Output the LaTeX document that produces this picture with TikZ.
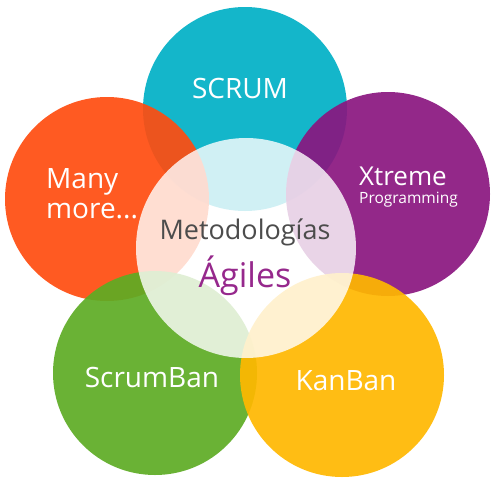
\documentclass[tikz,border=0pt]{standalone}
\usepackage{fontspec}
\setmainfont{Open Sans}
\usepackage{xcolor}
\usepackage{tikz}
\usetikzlibrary{positioning}

\definecolor{scrumcol}{RGB}{0,176,198}
\definecolor{morecol}{RGB}{255,76,16}
\definecolor{xpcol}{RGB}{138,22,128}
\definecolor{bancol}{RGB}{94,172,36}
\definecolor{kancol}{RGB}{255,184,0}
\definecolor{agilcol}{RGB}{150,40,140}

\begin{document}
\begin{tikzpicture}[
    x=1pt, y=-1pt,
    petal/.style={circle, minimum size=204pt, inner sep=0pt, fill opacity=0.92},
    hub/.style={circle, minimum size=220pt, inner sep=0pt, fill=white, fill opacity=0.8},
    methodtxt/.style={text=white, font=\fontsize{28}{30}\selectfont, inner sep=0pt, anchor=base}
]
    \fill[white] (0,0) rectangle (495,482);
    \useasboundingbox (0,0) rectangle (495,482);

    % the five methods
    \node[petal, fill=scrumcol] (scrum) at (245,109) {};
    \node[petal, fill=morecol] (more) at (107,199) {};
    \node[petal, fill=xpcol] (xp) at (388,194) {};
    \node[petal, fill=bancol] (scrumban) at (155,373) {};
    \node[petal, fill=kancol] (kanban) at (342,375) {};

    % the centre
    \node[hub] (hub) at (246,248) {};

    \node[methodtxt] (scrumtxt) at (240,98) {SCRUM};
    \node[methodtxt, anchor=base west] (manytxt) at (46,188) {Many};
    \node[methodtxt, anchor=base west] (moretxt) at (46,218) {more...};
    \node[methodtxt, anchor=base west, font=\fontsize{26}{26}\selectfont] (xptxt) at (359,185) {Xtreme};
    \node[methodtxt, anchor=base west, font=\fontsize{15.5}{16}\selectfont] (pgtxt) at (359,203) {Programming};
    \node[methodtxt] (bantxt) at (152,387) {ScrumBan};
    \node[methodtxt] (kantxt) at (346,390) {KanBan};

    \node[inner sep=0pt, anchor=base, text=black!70, font=\fontsize{27}{30}\selectfont] (metotxt) at (245,239) {Metodologías};
    \node[inner sep=0pt, anchor=base, text=agilcol, font=\fontsize{34}{36}\selectfont] (agiltxt) at (245,287) {Ágiles};
\end{tikzpicture}
\end{document}
